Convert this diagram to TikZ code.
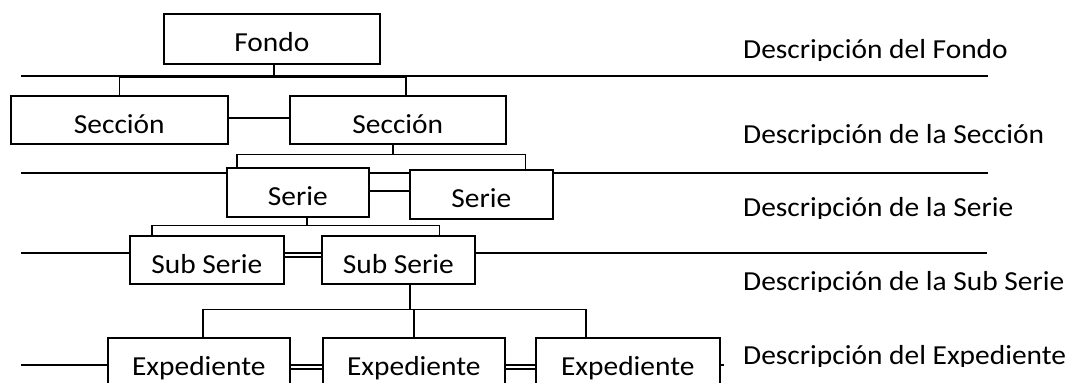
\documentclass[tikz,border=0pt]{standalone}
\usepackage{fontspec}
\setmainfont[FakeStretch=1.07]{Carlito}
\begin{document}
\begin{tikzpicture}[x=1pt,y=-1pt,
  txt/.style={font=\fontsize{27.5}{32}\selectfont},
  box/.style={txt, draw=black, line width=1.6pt, fill=white, inner sep=0pt, text height=38pt, anchor=north west},
  lvl/.style={draw=black, line width=2.4pt},
  conn/.style={draw=black, line width=1.4pt},
  lab/.style={txt, anchor=base west, inner sep=0pt}]
\useasboundingbox (0,0) rectangle (1069,383);
% level lines
\coordinate (l1a) at (21,76);  \coordinate (l1b) at (988,76);
\coordinate (l2a) at (21,173); \coordinate (l2b) at (988,173);
\coordinate (l3a) at (21,253); \coordinate (l3b) at (987,253);
\coordinate (l4a) at (21,365); \coordinate (l4b) at (724,365);
\draw[lvl] (l1a) -- (l1b);
\draw[lvl, line width=2.8pt] (l2a) -- (l2b);
\draw[lvl, line width=2.2pt] (l3a) -- (l3b);
\draw[lvl, line width=2.6pt] (l4a) -- (l4b);
% boxes
\node[box, minimum width=216pt, text depth=12pt] (fondo) at (163,13) {Fondo};
\node[box, minimum width=217pt, text depth=10pt] (sec1) at (10,95) {Sección};
\node[box, minimum width=216pt, text depth=10pt] (sec2) at (289,95) {Sección};
\node[box, minimum width=142pt, text depth=11pt] (ser1) at (226,167) {Serie};
\node[box, minimum width=143pt, text depth=11pt] (ser2) at (409,169) {Serie};
\node[box, minimum width=154pt, text depth=10pt] (sub1) at (129,235) {Sub Serie};
\node[box, minimum width=153pt, text depth=10pt] (sub2) at (321,235) {Sub Serie};
\node[box, minimum width=182pt, text depth=12pt] (exp1) at (107,337) {Expediente};
\node[box, minimum width=182pt, text depth=12pt] (exp2) at (322,337) {Expediente};
\node[box, minimum width=184pt, text depth=12pt] (exp3) at (535,337) {Expediente};
% connector anchor points
\coordinate (fst) at ([xshift=2pt]fondo.south);
\coordinate (sec2t) at ([xshift=8pt]sec2.north);
\coordinate (sec2b) at ([xshift=-5pt]sec2.south);
\coordinate (ser1t) at ([xshift=11pt]ser1.north west);
\coordinate (ser2t) at ([xshift=-28pt]ser2.north east);
\coordinate (ser1b) at ([xshift=9pt]ser1.south);
\coordinate (sub1t) at ([xshift=23pt]sub1.north west);
\coordinate (sub2t) at ([xshift=-36pt]sub2.north east);
\coordinate (sub2b) at ([xshift=11.5pt]sub2.south);
\coordinate (exp1t) at ([xshift=96pt]exp1.north west);
\coordinate (exp2t) at ([xshift=92pt]exp2.north west);
\coordinate (exp3t) at ([xshift=51pt]exp3.north west);
% tree brackets
\draw[conn] (fst) -- ++(0,13) -| (sec1.north);
\draw[conn] (fst) -- ++(0,13) -| (sec2t);
\draw[conn] (sec2b) -- ++(0,10) -| (ser1t);
\draw[conn] (sec2b) -- ++(0,10) -| (ser2t);
\draw[conn] (ser1b) -- ++(0,8) -| (sub1t);
\draw[conn] (ser1b) -- ++(0,8) -| (sub2t);
\draw[conn] (sub2b) -- ++(0,25) -| (exp1t);
\draw[conn] (sub2b) -- ++(0,25) -| (exp2t);
\draw[conn] (sub2b) -- ++(0,25) -| (exp3t);
% sibling connectors
\draw[conn] ([yshift=2pt]sec1.east) -- ([yshift=2pt]sec1.east -| sec2.west);
\draw[conn] ([yshift=1.5pt]ser1.east) -- ([yshift=1.5pt]ser1.east -| ser2.west);
\draw[conn] ([yshift=3pt]sub1.east) -- ([yshift=3pt]sub1.east -| sub2.west);
\draw[conn] ([yshift=-6pt]exp1.east) -- ([yshift=-6pt]exp1.east -| exp2.west);
\draw[conn] ([yshift=-6pt]exp2.east) -- ([yshift=-6pt]exp2.east -| exp3.west);
% level labels (bottoms clipped as in the reference)
\begin{scope}
\clip (730,30) rectangle (1069,60.5);
\node[lab] (dfondo) at (743,58.5) {Descripción del Fondo};
\end{scope}
\begin{scope}
\clip (730,110) rectangle (1069,144.5);
\node[lab] (dsec) at (743,143) {Descripción de la Sección};
\end{scope}
\begin{scope}
\clip (730,185) rectangle (1069,218);
\node[lab] (dser) at (743,216.5) {Descripción de la Serie};
\end{scope}
\begin{scope}
\clip (730,260) rectangle (1069,291.5);
\node[lab] (dsub) at (743,290) {Descripción de la Sub Serie};
\end{scope}
\begin{scope}
\clip (730,335) rectangle (1069,366);
\node[lab] (dexp) at (743,364.5) {Descripción del Expediente};
\end{scope}
\end{tikzpicture}
\end{document}
